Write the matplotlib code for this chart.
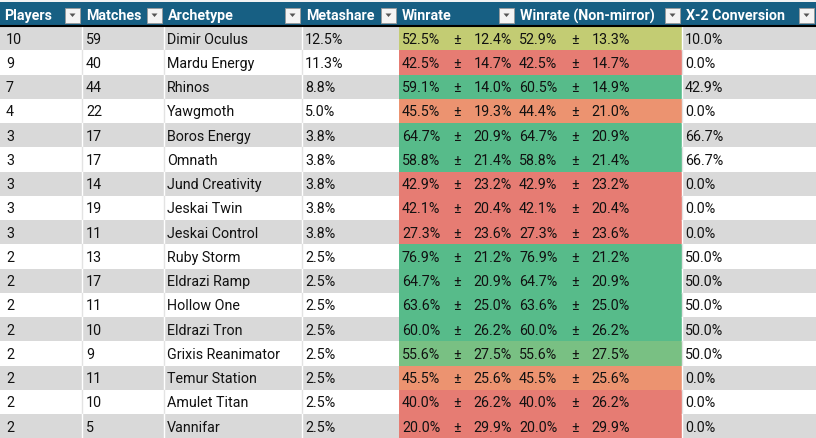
import matplotlib
matplotlib.use("Agg")
import matplotlib.pyplot as plt
from matplotlib.patches import Rectangle, Polygon
import numpy as np

headers = ["Players", "Matches", "Archetype", "Metashare", "Winrate", "Winrate (Non-mirror)", "X-2 Conversion"]
players = [10, 9, 7, 4, 3, 3, 3, 3, 3, 2, 2, 2, 2, 2, 2, 2, 2]
matches = [59, 40, 44, 22, 17, 17, 14, 19, 11, 13, 17, 11, 10, 9, 11, 10, 5]
archetypes = ["Dimir Oculus", "Mardu Energy", "Rhinos", "Yawgmoth", "Boros Energy", "Omnath",
              "Jund Creativity", "Jeskai Twin", "Jeskai Control", "Ruby Storm", "Eldrazi Ramp",
              "Hollow One", "Eldrazi Tron", "Grixis Reanimator", "Temur Station", "Amulet Titan", "Vannifar"]
metashare = [12.5, 11.3, 8.8, 5.0, 3.8, 3.8, 3.8, 3.8, 3.8, 2.5, 2.5, 2.5, 2.5, 2.5, 2.5, 2.5, 2.5]
winrate = [52.5, 42.5, 59.1, 45.5, 64.7, 58.8, 42.9, 42.1, 27.3, 76.9, 64.7, 63.6, 60.0, 55.6, 45.5, 40.0, 20.0]
winrate_err = [12.4, 14.7, 14.0, 19.3, 20.9, 21.4, 23.2, 20.4, 23.6, 21.2, 20.9, 25.0, 26.2, 27.5, 25.6, 26.2, 29.9]
nm_winrate = [52.9, 42.5, 60.5, 44.4, 64.7, 58.8, 42.9, 42.1, 27.3, 76.9, 64.7, 63.6, 60.0, 55.6, 45.5, 40.0, 20.0]
nm_err = [13.3, 14.7, 14.9, 21.0, 20.9, 21.4, 23.2, 20.4, 23.6, 21.2, 20.9, 25.0, 26.2, 27.5, 25.6, 26.2, 29.9]
x2conv = [10.0, 0.0, 42.9, 0.0, 66.7, 66.7, 0.0, 0.0, 0.0, 50.0, 50.0, 50.0, 50.0, 50.0, 0.0, 0.0, 0.0]

RED = np.array([0xe6, 0x7c, 0x73]) / 255
YEL = np.array([0xff, 0xd6, 0x66]) / 255
GRN = np.array([0x57, 0xbb, 0x8a]) / 255
def scale_color(v, lo=44.0, mid=50.0, hi=57.0):
    if v <= mid:
        t = np.clip((v - lo) / (mid - lo), 0, 1)
        return RED + t * (YEL - RED)
    t = np.clip((v - mid) / (hi - mid), 0, 1)
    return YEL + t * (GRN - YEL)

W, H = 816, 439
fig = plt.figure(figsize=(W / 100, H / 100), dpi=100)
ax = fig.add_axes([0, 0, 1, 1])
ax.set_xlim(0, W); ax.set_ylim(H, 0); ax.axis("off")

font = "Roboto"
fs = 10.3
bounds = [0, 82, 164, 302, 398, 516, 682, 816]
hdr_top, hdr_bot = 3, 27
row_h = 24.25
HDR = "#175f83"

ax.add_patch(Rectangle((0, 0), W, hdr_top, color="#f3f3f3", lw=0))
ax.add_patch(Rectangle((0, hdr_top), W, hdr_bot - hdr_top, color=HDR, lw=0))
for i, h in enumerate(headers):
    ax.text(bounds[i] + 4, (hdr_top + hdr_bot) / 2 + 1, h, color="white", fontsize=fs,
            fontweight="bold", family=font, va="center", ha="left")
    x1 = bounds[i + 1] - 17
    ax.add_patch(Rectangle((x1, 9), 15, 15, facecolor="#f4f4f4", edgecolor="#9a9a9a", lw=0.6))
    ax.add_patch(Polygon([[x1 + 4.5, 14.5], [x1 + 10.5, 14.5], [x1 + 7.5, 18]], closed=True,
                         color="#555555", lw=0))

for r in range(len(archetypes)):
    y0 = hdr_bot + r * row_h
    yc = y0 + row_h / 2 + 0.5
    bg = "#d9d9d9" if r % 2 == 0 else "white"
    ax.add_patch(Rectangle((0, y0), W, row_h, color=bg, lw=0))
    ax.add_patch(Rectangle((399, y0), 683 - 399, row_h, color=scale_color(winrate[r]), lw=0))
    for b in bounds[1:4] + [682]:
        ax.plot([b, b], [y0, y0 + row_h], color="white" if r % 2 == 0 else "#e3e3e3", lw=1)
    kw = dict(fontsize=fs, family=font, va="center", color="#111111")
    ax.text(6, yc, str(players[r]), ha="left", **kw)
    ax.text(86, yc, str(matches[r]), ha="left", **kw)
    ax.text(167, yc, archetypes[r], ha="left", **kw)
    ax.text(305, yc, f"{metashare[r]:.1f}%", ha="left", **kw)
    ax.text(402, yc, f"{winrate[r]:.1f}%", ha="left", **kw)
    ax.text(457, yc, "±", ha="center", **kw)
    ax.text(512, yc, f"{winrate_err[r]:.1f}%", ha="right", **kw)
    ax.text(519, yc, f"{nm_winrate[r]:.1f}%", ha="left", **kw)
    ax.text(575, yc, "±", ha="center", **kw)
    ax.text(630, yc, f"{nm_err[r]:.1f}%", ha="right", **kw)
    ax.text(685, yc, f"{x2conv[r]:.1f}%", ha="left", **kw)

ax.plot([0, W], [hdr_bot, hdr_bot], color="black", lw=1.5)
fig.savefig("out.png", dpi=100)
